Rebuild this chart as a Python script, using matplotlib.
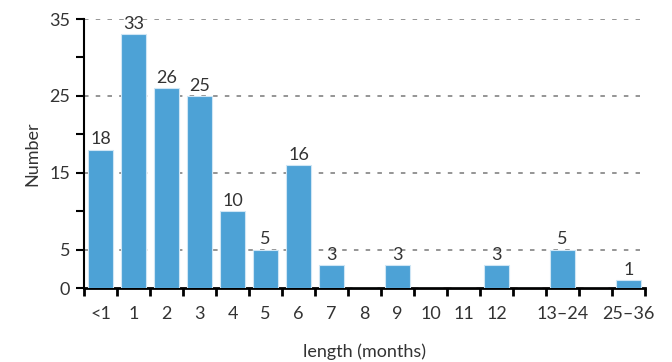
import matplotlib
matplotlib.use('Agg')
import matplotlib.pyplot as plt

# 数据
slots = ['<1', '1', '2', '3', '4', '5', '6', '7', '8', '9', '10', '11', '12', '', '13–24', '', '25–36']
counts = [18, 33, 26, 25, 10, 5, 16, 3, 0, 3, 0, 0, 3, 0, 5, 0, 1]
y_major = [0, 5, 15, 25, 35]
y_minor = [10, 20, 30]

plt.rcParams['font.family'] = ['Lato', 'DejaVu Sans']
txt_color = '#333333'
bar_color = '#4da2d6'
fs = 13

fig = plt.figure(figsize=(6.72, 3.62), dpi=100)
ax = fig.add_axes([0.125, 0.204, 0.835, 0.7435])

x = list(range(len(slots)))
ax.bar(x, counts, width=0.76, color=bar_color, edgecolor='#cfe6f5', linewidth=0.8, zorder=3)

for i in range(len(slots)):
    if slots[i] != '' and counts[i] > 0:
        ax.text(x[i], counts[i] + 0.3, str(counts[i]), ha='center', va='bottom',
                fontsize=fs, color=txt_color)

ax.set_xlim(-0.5, len(slots) - 0.5)
ax.set_ylim(0, 35)

# x轴: 标签在中间, 刻度线在分界处
ax.set_xticks(x)
ax.set_xticklabels(slots, fontsize=fs, color=txt_color)
ax.tick_params(axis='x', which='major', length=0, pad=13)
ax.set_xticks([i - 0.5 for i in range(len(slots) + 1)], minor=True)
ax.tick_params(axis='x', which='minor', length=6, width=2, direction='out', color='black')

ax.set_yticks(y_major)
ax.set_yticklabels([str(v) for v in y_major], fontsize=fs, color=txt_color)
ax.set_yticks(y_minor, minor=True)
ax.tick_params(axis='y', which='both', length=6, width=1.5, direction='out', color='black', pad=4)

for v in [5, 15, 25, 35]:
    ax.axhline(v, color='#8c8c8c', linestyle=(0, (2.5, 4)), linewidth=1.3, zorder=1, xmax=0.99)

ax.spines['top'].set_visible(False)
ax.spines['right'].set_visible(False)
ax.spines['left'].set_linewidth(1.5)
ax.spines['bottom'].set_linewidth(2)

ax.set_ylabel('Number', fontsize=fs, color=txt_color, labelpad=6)
ax.set_xlabel('length (months)', fontsize=fs, color=txt_color, labelpad=15)

plt.savefig('out.png', dpi=100)
